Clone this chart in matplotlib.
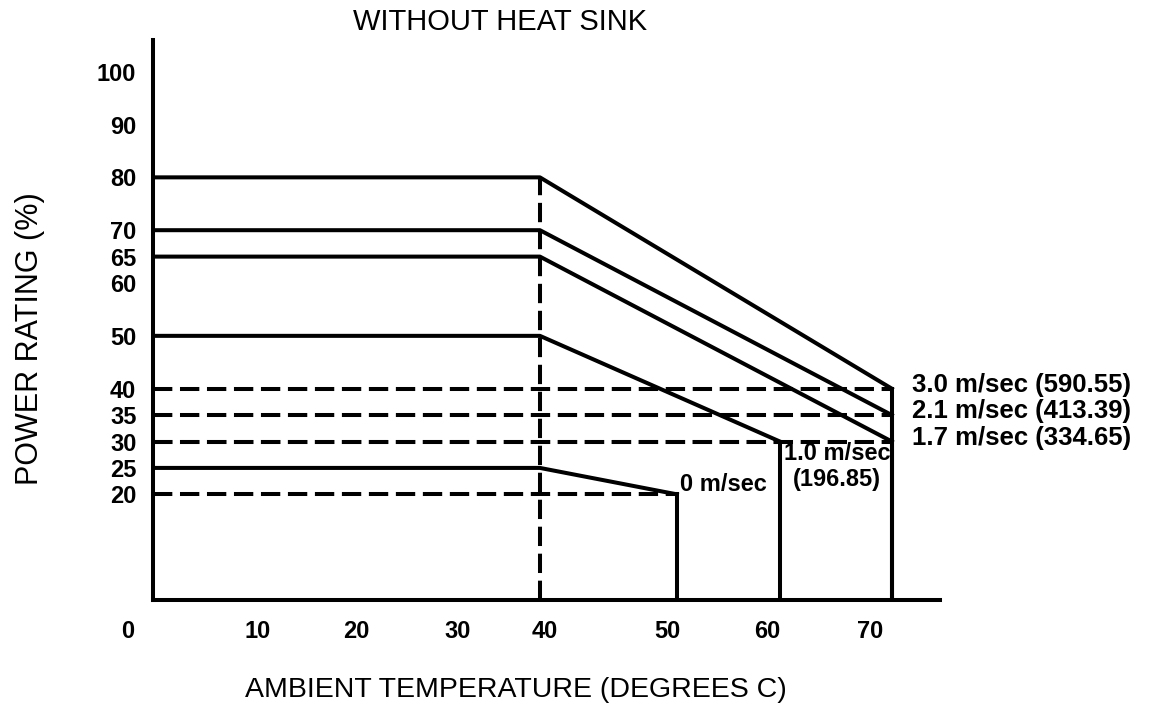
import numpy as np
import matplotlib
matplotlib.use("Agg")
import matplotlib.pyplot as plt

# derating curves, one per air speed
speeds = ["0 m/sec", "1.0 m/sec", "1.7 m/sec", "2.1 m/sec", "3.0 m/sec"]
flows = ["", "(196.85)", "(334.65)", "(413.39)", "(590.55)"]
plateau = [25, 50, 65, 70, 80]
end_temp = [50, 60, 70, 70, 70]
end_power = [20, 30, 30, 35, 40]
knee_temp = 40

x_ticks = [0, 10, 20, 30, 40, 50, 60, 70]
y_ticks = [20, 25, 30, 35, 40, 50, 60, 65, 70, 80, 90, 100]

# the original temperature axis is hand drawn and not evenly spaced
TEMP_KNOTS = [0, 40, 50, 60, 70, 80]
AXIS_KNOTS = [0, 387, 524, 627, 739, 851]
# where each x tick label sits relative to its value (pixels)
X_LABEL_NUDGE = [-25, 8, 10, 14, 5, -10, -13, -22]

LW = 2.9
DASH = (0, (4.8, 1.9))
BOLD = dict(family="Liberation Sans", fontweight="bold", fontsize=17)
PT = 0.72  # points per pixel at dpi 100


def fwd(x):
    return np.interp(x, TEMP_KNOTS, AXIS_KNOTS)


def inv(u):
    return np.interp(u, AXIS_KNOTS, TEMP_KNOTS)


def main():
    fig = plt.figure(figsize=(11.52, 7.17), dpi=100)
    ax = fig.add_axes([153 / 1152, 117 / 717, 787 / 1152, 560 / 717])
    ax.set_xscale("function", functions=(fwd, inv))
    ax.set_xlim(0, 74.3)
    ax.set_ylim(0, 106)

    for i in range(len(speeds)):
        ax.plot([0, knee_temp, end_temp[i]], [plateau[i], plateau[i], end_power[i]],
                color="black", lw=LW)
        ax.plot([0, end_temp[i]], [end_power[i], end_power[i]],
                color="black", lw=LW, ls=DASH)
        ax.plot([end_temp[i], end_temp[i]], [0, end_power[i]], color="black", lw=LW)
    ax.plot([knee_temp, knee_temp], [0, max(plateau)], color="black", lw=LW, ls=DASH)

    # curve labels
    ax.annotate(speeds[0], xy=(end_temp[0], end_power[0]), xytext=(3 * PT, 10 * PT),
                textcoords="offset points", ha="left", va="center", **BOLD)
    ax.annotate(speeds[1] + "\n" + flows[1], xy=(end_temp[1], end_power[1]),
                xytext=(57 * PT, -25 * PT), textcoords="offset points",
                ha="center", va="center", multialignment="center",
                linespacing=1.15, **BOLD)
    side = dict(BOLD, fontsize=18.5)
    for i in range(2, len(speeds)):
        ax.annotate(speeds[i] + " " + flows[i], xy=(end_temp[i], end_power[i]),
                    xytext=(20 * PT, 4 * PT), textcoords="offset points",
                    ha="left", va="center", **side)

    for s in ["top", "right"]:
        ax.spines[s].set_visible(False)
    for s in ["left", "bottom"]:
        ax.spines[s].set_linewidth(LW)

    ax.set_xticks([])
    ax.set_yticks(y_ticks)
    ax.set_yticklabels([str(v) for v in y_ticks], **BOLD)
    ax.tick_params(axis="y", length=0, pad=12)
    for t, dx in zip(x_ticks, X_LABEL_NUDGE):
        ax.annotate(str(t), xy=(t, 0), xycoords=("data", "axes fraction"),
                    xytext=(dx * PT, -32 * PT), textcoords="offset points",
                    ha="center", va="center", **BOLD)

    fig.text(500 / 1152, 1 - 22 / 717, "WITHOUT HEAT SINK", ha="center", va="center",
             family="Liberation Sans", fontsize=21)
    fig.text(516 / 1152, 1 - 690 / 717, "AMBIENT TEMPERATURE (DEGREES C)",
             ha="center", va="center", family="Liberation Sans", fontsize=20.5)
    fig.text(30 / 1152, 1 - 339 / 717, "POWER RATING (%)", rotation=90,
             ha="center", va="center", family="Liberation Sans", fontsize=22)

    fig.savefig("out.png", dpi=100, facecolor="white")


if __name__ == "__main__":
    main()
